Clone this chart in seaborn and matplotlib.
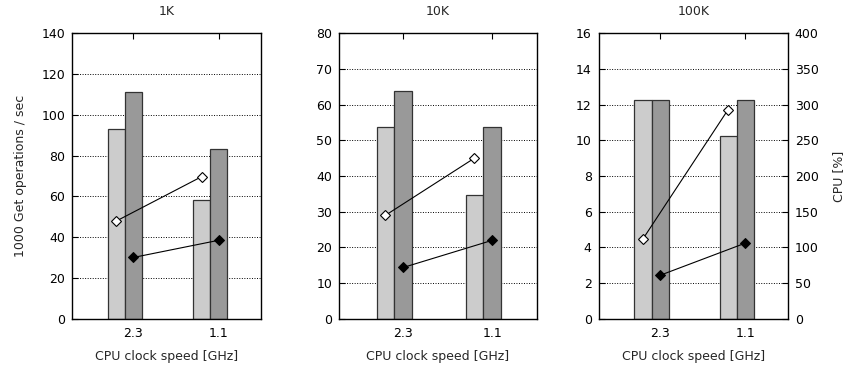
import numpy as np
import pandas as pd
import matplotlib
matplotlib.use("Agg")
import matplotlib.pyplot as plt
import seaborn as sns

# data
sizes = ["1K", "10K", "100K"]
speeds = ["2.3", "1.1"]
ops_light = [[93, 58], [53.8, 34.7], [12.25, 10.25]]
ops_dark = [[111, 83], [63.7, 53.8], [12.25, 12.25]]
cpu_hollow = [[137, 199], [145, 225], [112, 293]]
cpu_filled = [[86, 110], [72, 110], [61, 106]]
ymax = [140, 80, 16]
ystep = [20, 10, 2]

sns.set_style("white")
plt.rcParams['font.family'] = ['DejaVu Sans']

fig = plt.figure(figsize=(8.48, 3.67), dpi=100)
lefts = [0.085, 0.400, 0.706]
widths = [0.223, 0.233, 0.223]
fs = 9

for i in range(3):
    ax = fig.add_axes([lefts[i], 0.131, widths[i], 0.779])
    df = pd.DataFrame({
        "speed": speeds * 2,
        "ops": ops_light[i] + ops_dark[i],
        "kind": ["light"] * 2 + ["dark"] * 2,
    })
    sns.barplot(data=df, x="speed", y="ops", hue="kind", order=speeds,
                palette={"light": "#cccccc", "dark": "#999999"},
                width=0.4, dodge=True, edgecolor="#333333", linewidth=0.9,
                legend=False, ax=ax)
    ax.set_xlim(-0.62, 1.6)
    ax.set_ylim(0, ymax[i])
    ax.set_yticks(np.arange(0, ymax[i] + 1, ystep[i]))
    ax.set_xticks([0.1, 1.1])
    ax.set_xticklabels(speeds)
    ax.set_axisbelow(True)
    ax.yaxis.grid(True, linestyle=(0, (1, 1.6)), color="black", linewidth=0.7)
    ax.tick_params(direction="in", length=4, labelsize=fs, top=True,
                   right=(i < 2), width=0.8, pad=5, colors="black")
    ax.tick_params(axis="x", pad=6)
    for sp in ax.spines.values():
        sp.set_color("black")
        sp.set_linewidth(1.0)
    ax.set_xlabel("CPU clock speed [GHz]", fontsize=fs, labelpad=7)
    ax.set_ylabel("1000 Get operations / sec" if i == 0 else "", fontsize=fs,
                  labelpad=10)
    ax.set_title(sizes[i], fontsize=fs, pad=13)

    ax2 = ax.twinx()
    xs = [-0.1, 0.9]
    sns.lineplot(x=xs, y=cpu_hollow[i], ax=ax2, color="black", linewidth=0.8,
                 marker="D", markersize=5, markerfacecolor="white",
                 markeredgecolor="black", markeredgewidth=0.8)
    xs2 = [0.1, 1.1]
    sns.lineplot(x=xs2, y=cpu_filled[i], ax=ax2, color="black", linewidth=0.8,
                 marker="D", markersize=5, markerfacecolor="black",
                 markeredgecolor="black")
    ax2.set_ylim(0, 400)
    ax2.set_xlim(-0.62, 1.6)
    if i == 2:
        ax2.set_yticks(np.arange(0, 401, 50))
        ax2.tick_params(direction="in", length=4, labelsize=fs, width=0.8,
                        pad=5, colors="black")
        ax2.set_ylabel("CPU [%]", fontsize=fs, labelpad=10)
    else:
        ax2.set_yticks([])
    for sp in ax2.spines.values():
        sp.set_visible(False)

fig.savefig("out.png", dpi=100)
